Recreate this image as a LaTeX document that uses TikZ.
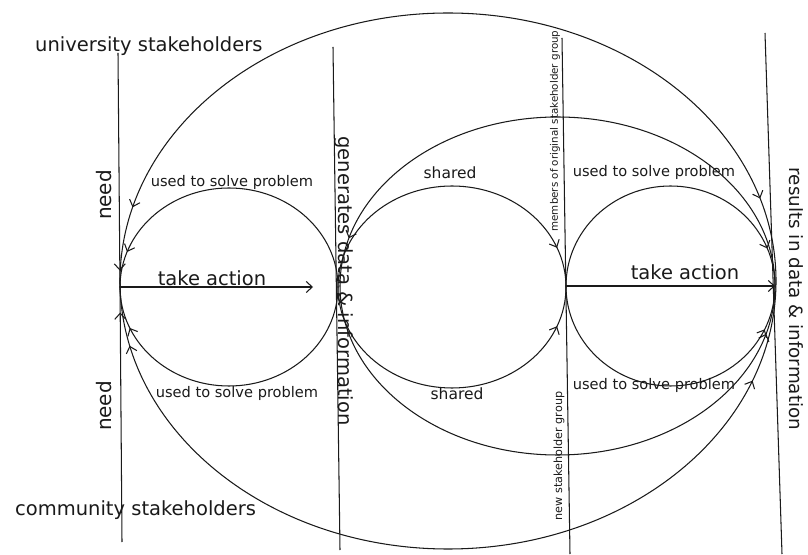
\documentclass[tikz,border=0pt]{standalone}
\usepackage{fontspec}
\setmainfont{DejaVu Sans}
\usetikzlibrary{arrows.meta,decorations.markings}
\definecolor{ink}{HTML}{1A1A1A}
\tikzset{
  >={Straight Barb[length=6pt,width=11pt]},
  ln/.style={draw=ink,line width=1.05pt},
  tipat/.style={postaction={decorate,decoration={markings,mark=at position #1 with {\arrow[ink,line width=1.05pt]{>}}}}},
  tipback/.style={postaction={decorate,decoration={markings,mark=at position #1 with {\arrowreversed[ink,line width=1.05pt]{>}}}}},
  lbl/.style={text=ink,inner sep=0pt},
  big/.style={lbl,font=\fontsize{19.5}{22}\selectfont},
  mid/.style={lbl,font=\fontsize{14.6}{17}\selectfont},
}
\begin{document}
\begin{tikzpicture}[x=1pt,y=1pt]
\useasboundingbox[fill=white] (0,0) rectangle (808,554);
% junction points and line ends
\coordinate (J1) at (120,267);
\coordinate (J2) at (338,267);
\coordinate (J3) at (566,268);
\coordinate (J4) at (775,268);
\coordinate (B4) at (776,273);
\coordinate (B1) at (120,273);
\coordinate (A1) at (313,267);
\coordinate (L1t) at (118,501);
\coordinate (L1b) at (122,12);
\coordinate (L2t) at (333,507);
\coordinate (L2b) at (340,4);
\coordinate (L3t) at (562,516);
\coordinate (L3b) at (570,0);
\coordinate (L4t) at (765,521);
\coordinate (L4b) at (782,0);
% vertical lines
\path[ln,tipat=0.93] (L1t) -- (J1);
\path[ln,tipat=0.90] (L1b) -- (J1);
\draw[ln] (L2t) -- (L2b);
\draw[ln] (L3t) -- (L3b);
\draw[ln] (L4t) -- (L4b);
% take action
\draw[ln,->] (J1) -- (A1);
\draw[ln,->] (J3) -- (J4);
% small left circle
\path[ln,tipat=0.89] (J2) arc[start angle=0,end angle=180,x radius=109pt,y radius=99pt];
\path[ln,tipat=0.87] (J2) arc[start angle=0,end angle=-180,x radius=109pt,y radius=99pt];
% shared circle
\path[ln,tipat=0.88] (J2) arc[start angle=180,end angle=0,x radius=114pt,y radius=101pt];
\path[ln,tipat=0.88] (J2) arc[start angle=180,end angle=360,x radius=114pt,y radius=101pt];
% right circle
\path[ln,tipat=0.88] (J3) arc[start angle=180,end angle=0,x radius=104.5pt,y radius=100pt];
\path[ln,tipat=0.86] (J3) arc[start angle=180,end angle=360,x radius=104.5pt,y radius=100pt];
% medium ellipse
\path[ln,tipat=0.92] (J4) arc[start angle=0,end angle=180,x radius=217.5pt,y radius=169pt];
\path[ln,tipback=0.08] (J4) arc[start angle=0,end angle=-180,x radius=217.5pt,y radius=169pt];
% big ellipse
\path[ln,tipback=0.09,tipat=0.92] (B4) arc[start angle=0,end angle=180,x radius=328pt,y radius=268pt];
\path[ln,tipback=0.07,tipat=0.89] (B1) arc[start angle=180,end angle=360,x radius=328pt,y radius=268pt];
% labels
\node[big,anchor=base west] (us) at (35,502) {university stakeholders};
\node[big,anchor=base west] (cs) at (15,38) {community stakeholders};
\node[lbl,font=\fontsize{20}{22}\selectfont,rotate=90] (need1) at (104,359) {need};
\node[lbl,font=\fontsize{20}{22}\selectfont,rotate=90] (need2) at (104,148) {need};
\node[lbl,font=\fontsize{19.5}{22}\selectfont,rotate=-90] (gen) at (344,273) {generates data \& information};
\node[lbl,font=\fontsize{18.3}{22}\selectfont,rotate=-90] (res) at (796,255) {results in data \& information};
\node[lbl,font=\fontsize{10.3}{12}\selectfont,rotate=90] (mem) at (555,423) {members of original stakeholder group};
\node[lbl,font=\fontsize{11.2}{14}\selectfont,rotate=90] (new) at (559,98) {new stakeholder group};
\node[big] (ta1) at (212,276) {take action};
\node[big] (ta2) at (685,282) {take action};
\node[mid] (u1) at (232,372) {used to solve problem};
\node[mid] (u2) at (237,161) {used to solve problem};
\node[lbl,font=\fontsize{15.5}{18}\selectfont] (s1) at (450,381) {shared};
\node[lbl,font=\fontsize{15.5}{18}\selectfont] (s2) at (457,160) {shared};
\node[mid] (u3) at (654,382) {used to solve problem};
\node[mid] (u4) at (654,169) {used to solve problem};
\end{tikzpicture}
\end{document}
